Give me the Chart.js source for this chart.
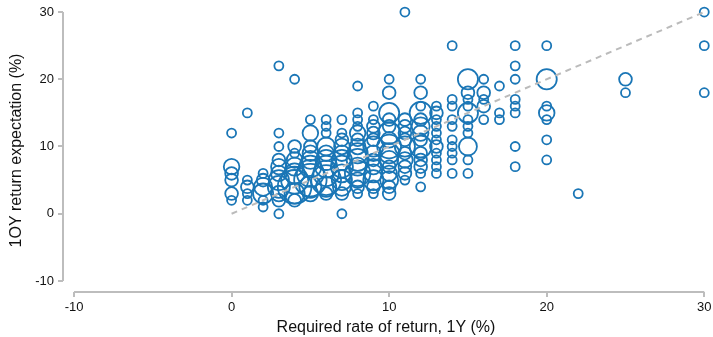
<!DOCTYPE html>
<html>
<head>
<meta charset="utf-8">
<script src="https://cdn.jsdelivr.net/npm/chart.js@4/dist/chart.umd.min.js"></script>
<style>
  html, body { margin: 0; padding: 0; background: #fff; }
</style>
</head>
<body>
<canvas id="scatter" width="713" height="337"></canvas>
<script>
// required 1Y return (x), expected 1OY return (y), number of answers at that pair
const reqReturn = [
  0,0,0,0,0,0,
  1,1,1,1,1,
  2,2,2,2,2,2,
  3,3,3,3,3,3,3,3,3,3,3,
  4,4,4,4,4,4,4,4,4,4,
  5,5,5,5,5,5,5,5,5,5,
  6,6,6,6,6,6,6,6,6,6,6,
  7,7,7,7,7,7,7,7,7,7,7,7,
  8,8,8,8,8,8,8,8,8,8,8,8,8,8,
  9,9,9,9,9,9,9,9,9,9,9,9,9,
  10,10,10,10,10,10,10,10,10,10,10,10,10,10,10,
  11,11,11,11,11,11,11,11,11,11,11,
  12,12,12,12,12,12,12,12,12,12,12,12,12,12,
  13,13,13,13,13,13,13,13,13,13,13,
  14,14,14,14,14,14,14,14,14,14,
  15,15,15,15,15,15,15,15,15,15,15,
  16,16,16,16,16,
  17,17,17,
  18,18,18,18,18,18,18,18,
  20,20,20,20,20,20,20,
  22,
  25,25,
  30,30,30
];
const expReturn = [
  12,7,6,5,3,2,
  15,5,4,3,2,
  6,5,4,3,2,1,
  22,12,10,8,7,6,5,4,3,2,0,
  20,10,9,8,7,6,5,4,3,2,
  14,12,10,9,8,7,6,5,4,3,
  14,13,12,10,9,8,7,6,5,4,3,
  14,12,11,10,9,8,7,6,5,4,3,0,
  19,15,14,13,12,11,10,9,8,7,6,5,4,3,
  16,14,13,12,11,10,9,8,7,6,5,4,3,
  20,18,15,14,13,12,11,10,9,8,7,6,5,4,3,
  30,14,13,12,11,10,9,8,7,6,5,
  20,18,16,15,14,13,12,11,10,9,8,7,6,4,
  16,15,14,13,12,11,10,9,8,7,6,
  25,17,16,14,13,11,10,9,8,6,
  20,18,17,16,15,14,13,12,10,8,6,
  20,18,17,16,14,
  19,15,14,
  25,22,20,17,16,15,10,7,
  25,20,16,15,14,11,8,
  3,
  20,18,
  30,25,18
];
const answers = [
  1,3,2,2,2,1,
  1,1,2,1,1,
  1,2,4,5,1,1,
  1,1,1,2,3,3,5,6,3,2,1,
  1,2,1,3,4,5,9,14,5,2,
  1,3,2,3,4,6,9,13,6,3,
  1,1,1,4,3,5,6,8,11,5,2,
  1,1,2,3,3,5,6,4,5,4,2,1,
  1,1,1,1,3,2,3,5,6,4,8,3,2,1,
  1,1,2,2,2,5,3,2,3,4,5,2,1,
  1,2,5,2,2,6,3,7,5,4,2,3,4,2,2,
  1,2,2,2,2,5,2,3,2,2,1,
  1,2,1,6,2,4,3,2,6,2,2,2,1,1,
  1,2,1,1,1,1,2,1,1,1,1,
  1,1,1,1,1,1,1,1,1,1,
  5,2,1,1,5,1,1,1,4,1,1,
  1,2,1,2,1,
  1,1,1,
  1,1,1,1,1,1,1,1,
  1,5,1,3,1,1,1,
  1,
  2,1,
  1,1,1
];
const tickValues = [-10, 0, 10, 20, 30];
const diagonal = [0, 30];

const AXIS_GREY = '#bdbdbd';
const BUBBLE_BLUE = '#1a76b6';

Chart.defaults.font.family = '"Liberation Sans", Arial, Helvetica, sans-serif';
Chart.defaults.color = '#111';

// axis lines only span the tick range (-10 .. 30), offset from the data
const rangeFrame = {
  id: 'rangeFrame',
  beforeDatasetsDraw(chart) {
    const { ctx, chartArea, scales: { x, y } } = chart;
    const lo = tickValues[0], hi = tickValues[tickValues.length - 1];
    ctx.save();
    ctx.strokeStyle = AXIS_GREY;
    ctx.lineWidth = 2;
    ctx.beginPath();
    ctx.moveTo(x.getPixelForValue(lo), chartArea.bottom);
    ctx.lineTo(x.getPixelForValue(hi), chartArea.bottom);
    ctx.moveTo(chartArea.left, y.getPixelForValue(lo));
    ctx.lineTo(chartArea.left, y.getPixelForValue(hi));
    ctx.stroke();
    ctx.restore();
  }
};

const bubbles = reqReturn.map((x, i) => ({
  x,
  y: expReturn[i],
  r: 4.5 * Math.sqrt(answers[i])
}));

const fixedTicks = (scale) => {
  scale.ticks = tickValues.map(v => ({ value: v }));
};

new Chart(document.getElementById('scatter'), {
  type: 'bubble',
  data: {
    datasets: [
      {
        type: 'line',
        data: diagonal.map(v => ({ x: v, y: v })),
        borderColor: '#bbbbbb',
        borderWidth: 2,
        borderDash: [6, 5],
        pointRadius: 0,
        fill: false,
        order: 0
      },
      {
        data: bubbles,
        backgroundColor: 'rgba(0,0,0,0)',
        borderColor: BUBBLE_BLUE,
        borderWidth: 1.8,
        hoverRadius: 0,
        clip: false,
        order: 1
      }
    ]
  },
  options: {
    responsive: false,
    animation: false,
    layout: { autoPadding: false, padding: { top: 9, right: 4, left: 0, bottom: 0 } },
    plugins: {
      legend: { display: false },
      tooltip: { enabled: false }
    },
    scales: {
      x: {
        type: 'linear',
        min: -10.7,
        max: 30.3,
        afterBuildTicks: fixedTicks,
        afterFit: (s) => { s.height = 45; s.paddingLeft = 0; s.paddingRight = 0; },
        border: { display: false },
        grid: {
          drawOnChartArea: false,
          drawTicks: true,
          tickLength: 5,
          color: AXIS_GREY,
          lineWidth: 2
        },
        ticks: { font: { size: 13 }, color: '#111', padding: 3, maxRotation: 0 },
        title: {
          display: true,
          text: 'Required rate of return, 1Y (%)',
          font: { size: 16 },
          color: '#111',
          padding: { top: 0, bottom: 0 }
        }
      },
      y: {
        type: 'linear',
        min: -11.64,
        max: 30.45,
        afterBuildTicks: fixedTicks,
        afterFit: (s) => { s.width = 63; s.paddingTop = 0; s.paddingBottom = 0; },
        border: { display: false },
        grid: {
          drawOnChartArea: false,
          drawTicks: true,
          tickLength: 5,
          color: AXIS_GREY,
          lineWidth: 2
        },
        ticks: { font: { size: 13 }, color: '#111', padding: 4 },
        title: {
          display: true,
          text: '1OY return expectation (%)',
          font: { size: 16 },
          color: '#111',
          padding: { top: 7, bottom: 0 }
        }
      }
    }
  },
  plugins: [rangeFrame]
});
</script>
</body>
</html>
